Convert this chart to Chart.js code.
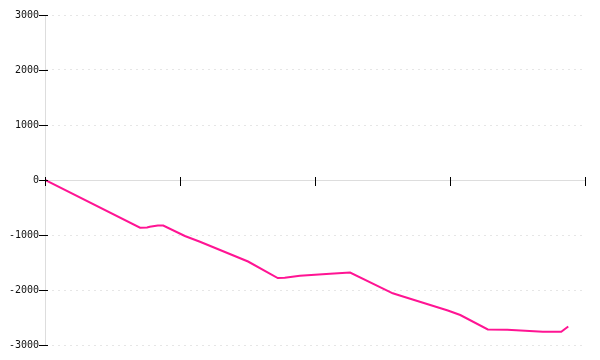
<!DOCTYPE html>
<html>
<head>
<meta charset="utf-8">
<script src="https://cdn.jsdelivr.net/npm/chart.js@4"></script>
<style>
html,body{margin:0;padding:0;background:#fff;}
#wrap{width:600px;height:360px;}
</style>
</head>
<body>
<div id="wrap"><canvas id="c" width="600" height="360"></canvas></div>
<script>
const xValues = [0, 17.6, 18.9, 19.4, 20.9, 21.9, 25.9, 28.7, 37.6, 43.1, 44.4, 47.2, 52.8, 56.5, 64.4, 65.7, 74.6, 76.9, 82.0, 85.6, 92.2, 95.6, 96.9];
const yValues = [0, -867, -864, -849, -827, -827, -1018, -1122, -1482, -1782, -1776, -1740, -1703, -1682, -2060, -2100, -2373, -2455, -2718, -2722, -2758, -2758, -2664];
const yTickValues = [-3000, -2000, -1000, 0, 1000, 2000, 3000];
const xTickValues = [0, 25, 50, 75, 100];

const points = xValues.map((x, i) => ({x: x, y: yValues[i]}));

const tickMarks = {
  id: 'tickMarks',
  afterDraw(chart) {
    const ctx = chart.ctx;
    const xs = chart.scales.x, ys = chart.scales.y;
    const y0 = ys.getPixelForValue(0);
    const xAxis = xs.getPixelForValue(0);
    ctx.save();
    ctx.strokeStyle = '#000';
    ctx.lineWidth = 1;
    ctx.beginPath();
    yTickValues.forEach(v => {
      const py = Math.round(ys.getPixelForValue(v)) + 0.5;
      ctx.moveTo(xAxis - 6, py);
      ctx.lineTo(xAxis + 3, py);
    });
    xTickValues.forEach(v => {
      const px = Math.round(xs.getPixelForValue(v)) + 0.5;
      ctx.moveTo(px, y0 - 3);
      ctx.lineTo(px, y0 + 6);
    });
    ctx.stroke();
    ctx.restore();
  }
};

new Chart(document.getElementById('c'), {
  type: 'line',
  data: {
    datasets: [{
      data: points,
      borderColor: '#ff1493',
      backgroundColor: '#ff1493',
      borderWidth: 2,
      pointRadius: 0,
      tension: 0,
      fill: false
    }]
  },
  options: {
    responsive: false,
    animation: false,
    events: [],
    layout: {padding: {left: 0, right: 15, top: 15, bottom: 15}},
    plugins: {legend: {display: false}, tooltip: {enabled: false}},
    scales: {
      x: {
        type: 'linear',
        min: 0,
        max: 100,
        position: {y: 0},
        afterBuildTicks: s => { s.ticks = xTickValues.map(v => ({value: v})); },
        ticks: {display: false},
        grid: {drawOnChartArea: false, drawTicks: false},
        border: {display: true, color: '#dddddd', width: 1}
      },
      y: {
        type: 'linear',
        min: -3000,
        max: 3000,
        afterBuildTicks: s => { s.ticks = yTickValues.map(v => ({value: v})); },
        afterFit: s => { s.width = 45; },
        ticks: {
          padding: 6,
          color: '#111',
          font: {family: 'DejaVu Sans Mono', size: 10},
          callback: v => String(v)
        },
        grid: {color: '#e6e6e6', drawTicks: false, lineWidth: 1},
        border: {display: true, color: '#dddddd', width: 1, dash: [2, 4]}
      }
    }
  },
  plugins: [tickMarks]
});
</script>
</body>
</html>
